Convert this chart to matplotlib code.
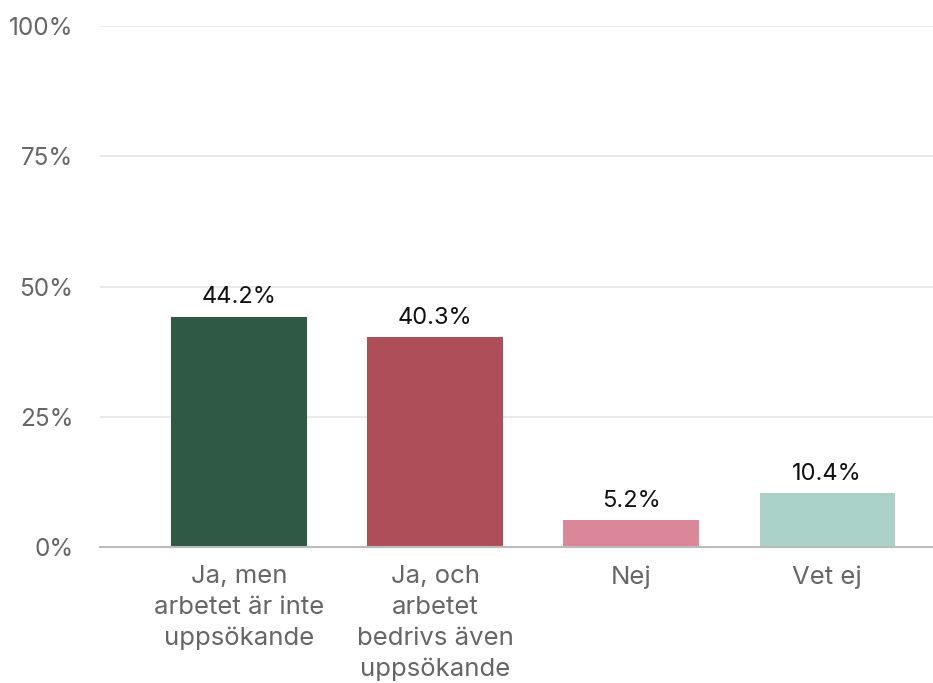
import matplotlib
matplotlib.use("Agg")
import matplotlib.pyplot as plt

categories = ["Ja, men\narbetet är inte\nuppsökande", "Ja, och\narbetet\nbedrivs även\nuppsökande", "Nej", "Vet ej"]
values = [44.2, 40.3, 5.2, 10.4]
colors = ["#2f5944", "#ae4e58", "#db879a", "#aad2c9"]
yticks = [0, 25, 50, 75, 100]
ytick_labels = ["0%", "25%", "50%", "75%", "100%"]

plt.rcParams['font.family'] = ['Inter', 'DejaVu Sans']

fig = plt.figure(figsize=(9.33, 6.83), dpi=100)
ax = fig.add_axes([0.107, 0.199, 0.893, 0.763])

x = range(len(categories))
bars = ax.bar(x, values, width=0.69, color=colors, zorder=3)
for xi, v in zip(x, values):
    ax.annotate(f"{v:.1f}%", (xi, v), xytext=(0, 6), textcoords="offset points",
                ha="center", va="bottom", fontsize=17, color="#111111")

ax.set_ylim(0, 100)
ax.set_xlim(-0.71, 3.54)
ax.set_yticks(yticks)
ax.set_yticklabels(ytick_labels)
ax.set_xticks(list(x))
ax.set_xticklabels(categories, linespacing=1.43)
ax.tick_params(axis="y", length=0, pad=19, labelsize=17.5, labelcolor="#666666")
ax.tick_params(axis="x", length=0, pad=13, labelsize=18.5, labelcolor="#666666")
ax.grid(axis="y", color="#e6e6e6", linewidth=1.2, zorder=0)
for s in ["top", "right", "left"]:
    ax.spines[s].set_visible(False)
ax.spines["bottom"].set_color("#bbbbbb")
ax.spines["bottom"].set_linewidth(1.5)
ax.spines["bottom"].set_zorder(4)

fig.savefig("out.png", dpi=100)
